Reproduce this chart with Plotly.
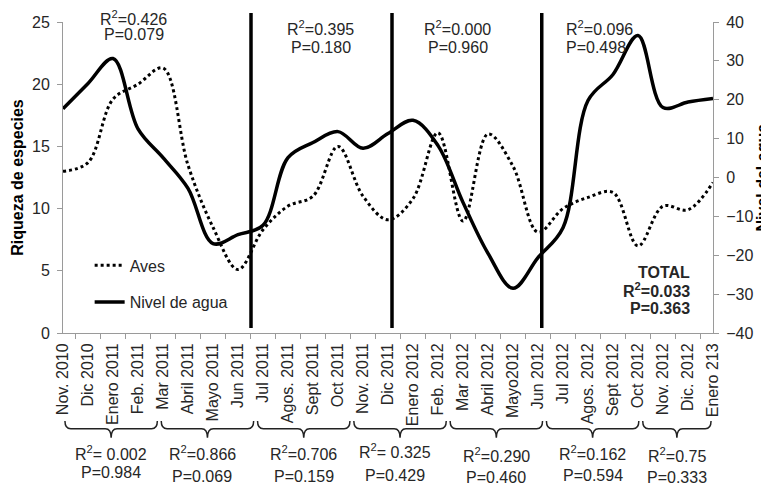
import plotly.graph_objects as go

# ---------------- data ----------------
months = ["Nov. 2010", "Dic 2010", "Enero 2011", "Feb. 2011", "Mar 2011", "Abril 2011",
          "Mayo 2011", "Jun 2011", "Jul 2011", "Agos. 2011", "Sept 2011", "Oct 2011",
          "Nov. 2011", "Dic 2011", "Enero 2012", "Feb. 2012", "Mar 2012", "Abril 2012",
          "Mayo2012", "Jun 2012", "Jul 2012", "Agos. 2012", "Sept 2012", "Oct 2012",
          "Nov. 2012", "Dic. 2012", "Enero 213"]

aves = [13.0, 13.7, 18.8, 20.0, 21.3, 13.5, 8.5, 5.1, 8.3, 10.2, 11.0, 15.0, 11.0, 9.1,
        10.8, 16.1, 9.0, 16.0, 13.4, 8.1, 10.0, 10.9, 11.3, 7.0, 10.2, 9.9, 12.1]

nivel = [17.7, 24.2, 30.6, 12.5, 5.1, -2.8, -17.0, -14.7, -12.3, 5.1, 9.0, 11.8, 7.5, 11.3,
         14.7, 8.2, -6.4, -19.5, -28.5, -20.6, -12.9, 19.8, 26.5, 36.5, 18.0, 19.4, 20.3]

# vertical separators (category-index positions)
separators = [7.52, 13.16, 19.15]

# statistics shown at the top of each period
top_r2 = ["0.426", "0.395", "0.000", "0.096"]
top_p = ["0.079", "0.180", "0.960", "0.498"]

# statistics for each 4-month group (below the x axis)
groups = [(0, 3), (4, 7), (8, 11), (12, 15), (16, 19), (20, 23), (24, 26)]
group_r2 = ["= 0.002", "=0.866", "=0.706", "= 0.325", "=0.290", "=0.162", "=0.75"]
group_p = ["0.984", "0.069", "0.159", "0.429", "0.460", "0.594", "0.333"]

total_r2 = "0.033"
total_p = "0.363"

# ---------------- figure ----------------
FONT = "Liberation Sans, Arial, sans-serif"
TXT = "#262626"
AX = "#9a9a9a"

# the page body has an 8px default margin; size the figure so it fits the 769x487 window
BODY = 8
W, H = 769 - BODY, 487 - BODY

fig = go.Figure()
fig.add_trace(go.Scatter(x=months, y=aves, name="Aves", mode="lines", yaxis="y",
                         line=dict(color="black", width=3, dash="dot", shape="spline"),
                         legendgroup="a"))
fig.add_trace(go.Scatter(x=months, y=nivel, name="Nivel de agua", mode="lines", yaxis="y2",
                         line=dict(color="black", width=3.5, shape="spline"),
                         legendgroup="b"))

shapes = []
for s in separators:
    shapes.append(dict(type="line", xref="x", yref="paper", x0=s, x1=s, y0=0.016, y1=1.029,
                       line=dict(color="black", width=3.5), layer="above"))

N = len(months)
yt, ym, yb = -0.283, -0.308, -0.337
r = 0.009
for (s, e) in groups:
    x0 = s / N + 0.003
    x1 = (e + 1) / N - 0.003
    xc = (x0 + x1) / 2
    path = (f"M{x0},{yt} Q{x0},{ym} {x0 + r},{ym} L{xc - r},{ym} Q{xc},{ym} {xc},{yb} "
            f"M{xc},{yb} Q{xc},{ym} {xc + r},{ym} L{x1 - r},{ym} Q{x1},{ym} {x1},{yt}")
    shapes.append(dict(type="path", xref="x domain", yref="paper", path=path,
                       line=dict(color="#222222", width=1.5)))

ann = []
def add_text(text, x, y, xref="x", xanchor="center", bold=False, xshift=0):
    ann.append(dict(text=f"<b>{text}</b>" if bold else text, x=x, y=y, xref=xref, yref="paper",
                    xanchor=xanchor, yanchor="middle", showarrow=False, xshift=xshift,
                    font=dict(family=FONT, size=16, color=TXT)))

# top period statistics
top_pos = [(2.82, 1.013, 0.9585, "center"), (10.3, 0.9807, 0.9196, "center"),
           (15.79, 0.9807, 0.9196, "center"), (20.02, 0.9807, 0.9196, "left")]
for (x, yr, yp, anc), r2, p in zip(top_pos, top_r2, top_p):
    add_text(f"R<sup>2</sup>={r2}", x, yr, xanchor=anc)
    add_text(f"P={p}", x, yp, xanchor=anc)

# total
add_text("TOTAL", 25.15, 0.196, xanchor="right", bold=True)
add_text(f"R<sup>2</sup>={total_r2}", 25.15, 0.138, xanchor="right", bold=True)
add_text(f"P={total_p}", 25.15, 0.080, xanchor="right", bold=True)

# group statistics below brackets
g_r2_y = [-0.386, -0.386, -0.386, -0.380, -0.392, -0.386, -0.392]
g_p_y = [-0.447, -0.463, -0.463, -0.457, -0.466, -0.457, -0.466]
g_dx = [0, -5, 0, -5, 0, 0, 0]
for i, ((s, e), r2, p) in enumerate(zip(groups, group_r2, group_p)):
    xc = ((s / N + 0.003) + ((e + 1) / N - 0.003)) / 2
    add_text(f"R<sup>2</sup>{r2}", xc, g_r2_y[i], xref="x domain", xshift=g_dx[i])
    add_text(f"P={p}", xc, g_p_y[i], xref="x domain", xshift=g_dx[i])

# right axis title (placed as rotated text so it stays inside the page edge)
ann.append(dict(text="<b>Nivel del agua</b>", x=1.0, y=0.5, xref="paper", yref="paper",
                xanchor="center", yanchor="middle", xshift=49, textangle=-90,
                showarrow=False, font=dict(family=FONT, size=16, color="black")))

fig.update_layout(
    width=W, height=H, autosize=False,
    margin=dict(l=63 - BODY, r=56, t=22 - BODY, b=154, pad=0),
    plot_bgcolor="white", paper_bgcolor="white",
    font=dict(family=FONT, size=16, color=TXT),
    showlegend=True,
    legend=dict(x=0.041, y=0.272, xanchor="left", yanchor="top",
                bgcolor="rgba(0,0,0,0)", font=dict(size=16, color=TXT),
                tracegroupgap=13),
    xaxis=dict(type="category", tickangle=-90, showline=True, linecolor=AX, linewidth=1,
               ticks="outside", ticklen=5, tickcolor=AX, tickson="boundaries",
               showgrid=False, zeroline=False, automargin=False, ticklabelstandoff=3,
               tickfont=dict(size=16, color=TXT)),
    yaxis=dict(range=[0, 25], dtick=5, showline=True, linecolor=AX, linewidth=1,
               ticks="outside", ticklen=5, tickcolor=AX, showgrid=False, zeroline=False,
               automargin=False, ticklabelstandoff=4, tickfont=dict(size=16, color=TXT),
               title=dict(text="<b>Riqueza de especies</b>", font=dict(size=16, color="black"),
                          standoff=4)),
    yaxis2=dict(range=[-40, 40], dtick=10, overlaying="y", side="right", showline=True,
                linecolor=AX, linewidth=1, ticks="outside", ticklen=5, tickcolor=AX,
                showgrid=False, zeroline=False, automargin=False, ticklabelstandoff=4,
                tickfont=dict(size=16, color=TXT)),
    shapes=shapes,
    annotations=ann,
)

fig.write_html("out.html")
